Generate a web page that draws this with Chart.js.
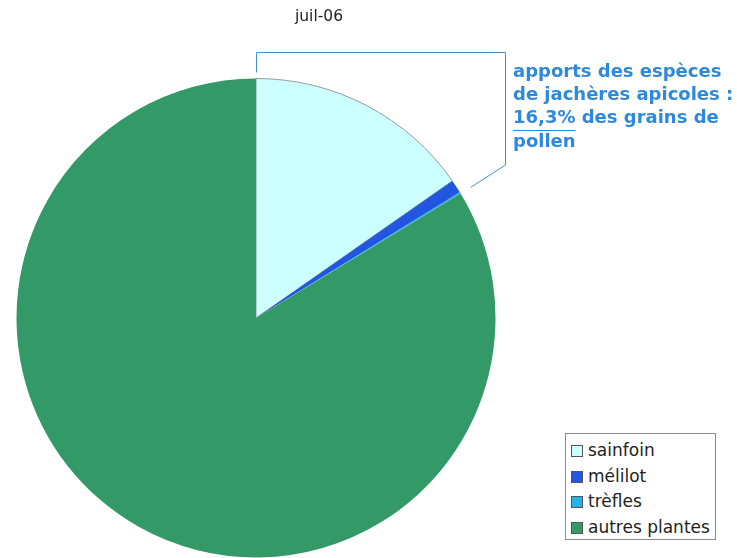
<!DOCTYPE html>
<html><head><meta charset="utf-8">
<script src="https://cdn.jsdelivr.net/npm/chart.js@4.4.0/dist/chart.umd.min.js"></script>
<style>
html,body{margin:0;padding:0;background:#fff;}
#wrap{position:relative;width:737px;height:558px;overflow:hidden;}
#legend{position:absolute;left:565px;top:433px;width:151px;height:107px;border:1px solid #8a8a8a;box-sizing:border-box;background:#fff;font-family:"DejaVu Sans",Verdana,sans-serif;font-size:17px;color:#222;padding-top:4px;}
#legend div{height:25.5px;line-height:25.5px;padding-left:5px;white-space:nowrap;}
#legend span{display:inline-block;width:10px;height:10px;border:1px solid #555;margin-right:5px;vertical-align:-1px;}
</style></head>
<body><div id="wrap"><canvas id="c" width="737" height="558"></canvas><div id="legend"></div></div>
<script>
const title = "juil-06";
const categories = ["sainfoin", "mélilot", "trèfles", "autres plantes"];
const values = [15.3, 0.9, 0.1, 83.7];
const colors = ["#ccffff", "#2255e0", "#22b4e6", "#339966"];
const noteLines = ["apports des espèces", "de jachères apicoles :", "16,3%", " des grains de", "pollen"];

const lg = document.getElementById('legend');
categories.forEach((c,i)=>{
  const d=document.createElement('div');
  d.innerHTML='<span style="background:'+colors[i]+'"></span>'+c;
  lg.appendChild(d);
});

const deco = {
  id:'deco',
  afterDraw(chart){
    const ctx=chart.ctx;
    const meta=chart.getDatasetMeta(0);
    const a0=meta.data[0];
    const cx=a0.x, cy=a0.y, r=a0.outerRadius;
    ctx.save();
    ctx.fillStyle='#222';
    ctx.font='15.5px "DejaVu Sans", Verdana, sans-serif';
    ctx.textAlign='center';ctx.textBaseline='alphabetic';
    ctx.fillText(title, 319, 21);
    // bracket
    const endAng = meta.data[2].endAngle;
    ctx.strokeStyle='#4a8fc4';ctx.lineWidth=1;
    ctx.beginPath();
    ctx.moveTo(cx+0.5, cy-r-6);
    ctx.lineTo(cx+0.5, 52.5);
    ctx.lineTo(505.5, 52.5);
    ctx.lineTo(505.5, 165);
    ctx.lineTo(cx+Math.cos(endAng)*(r+12), cy+Math.sin(endAng)*(r+12));
    ctx.stroke();
    // note text
    ctx.fillStyle='#2e88dc';
    ctx.font='bold 18px "DejaVu Sans", Verdana, sans-serif';
    ctx.textAlign='left';ctx.textBaseline='alphabetic';
    const x0=513;
    ctx.fillText(noteLines[0], x0, 77);
    ctx.fillText(noteLines[1], x0, 100);
    ctx.fillText(noteLines[2], x0, 123);
    const w=ctx.measureText(noteLines[2]).width;
    ctx.fillText(noteLines[3], x0+w, 123);
    ctx.fillRect(x0, 130, w, 1);
    ctx.fillText(noteLines[4], x0, 147);
    ctx.restore();
  }
};

new Chart(document.getElementById('c'), {
  type:'pie',
  data:{labels:categories, datasets:[{data:values, backgroundColor:colors,
    borderColor:['#999','#2255e0','#22b4e6','#339966'], borderWidth:[1,0,0,0]}]},
  options:{
    responsive:false, animation:false,
    layout:{padding:{left:16,right:241,top:78,bottom:0}},
    plugins:{legend:{display:false}, tooltip:{enabled:false}, title:{display:false}}
  },
  plugins:[deco]
});
</script></body></html>
